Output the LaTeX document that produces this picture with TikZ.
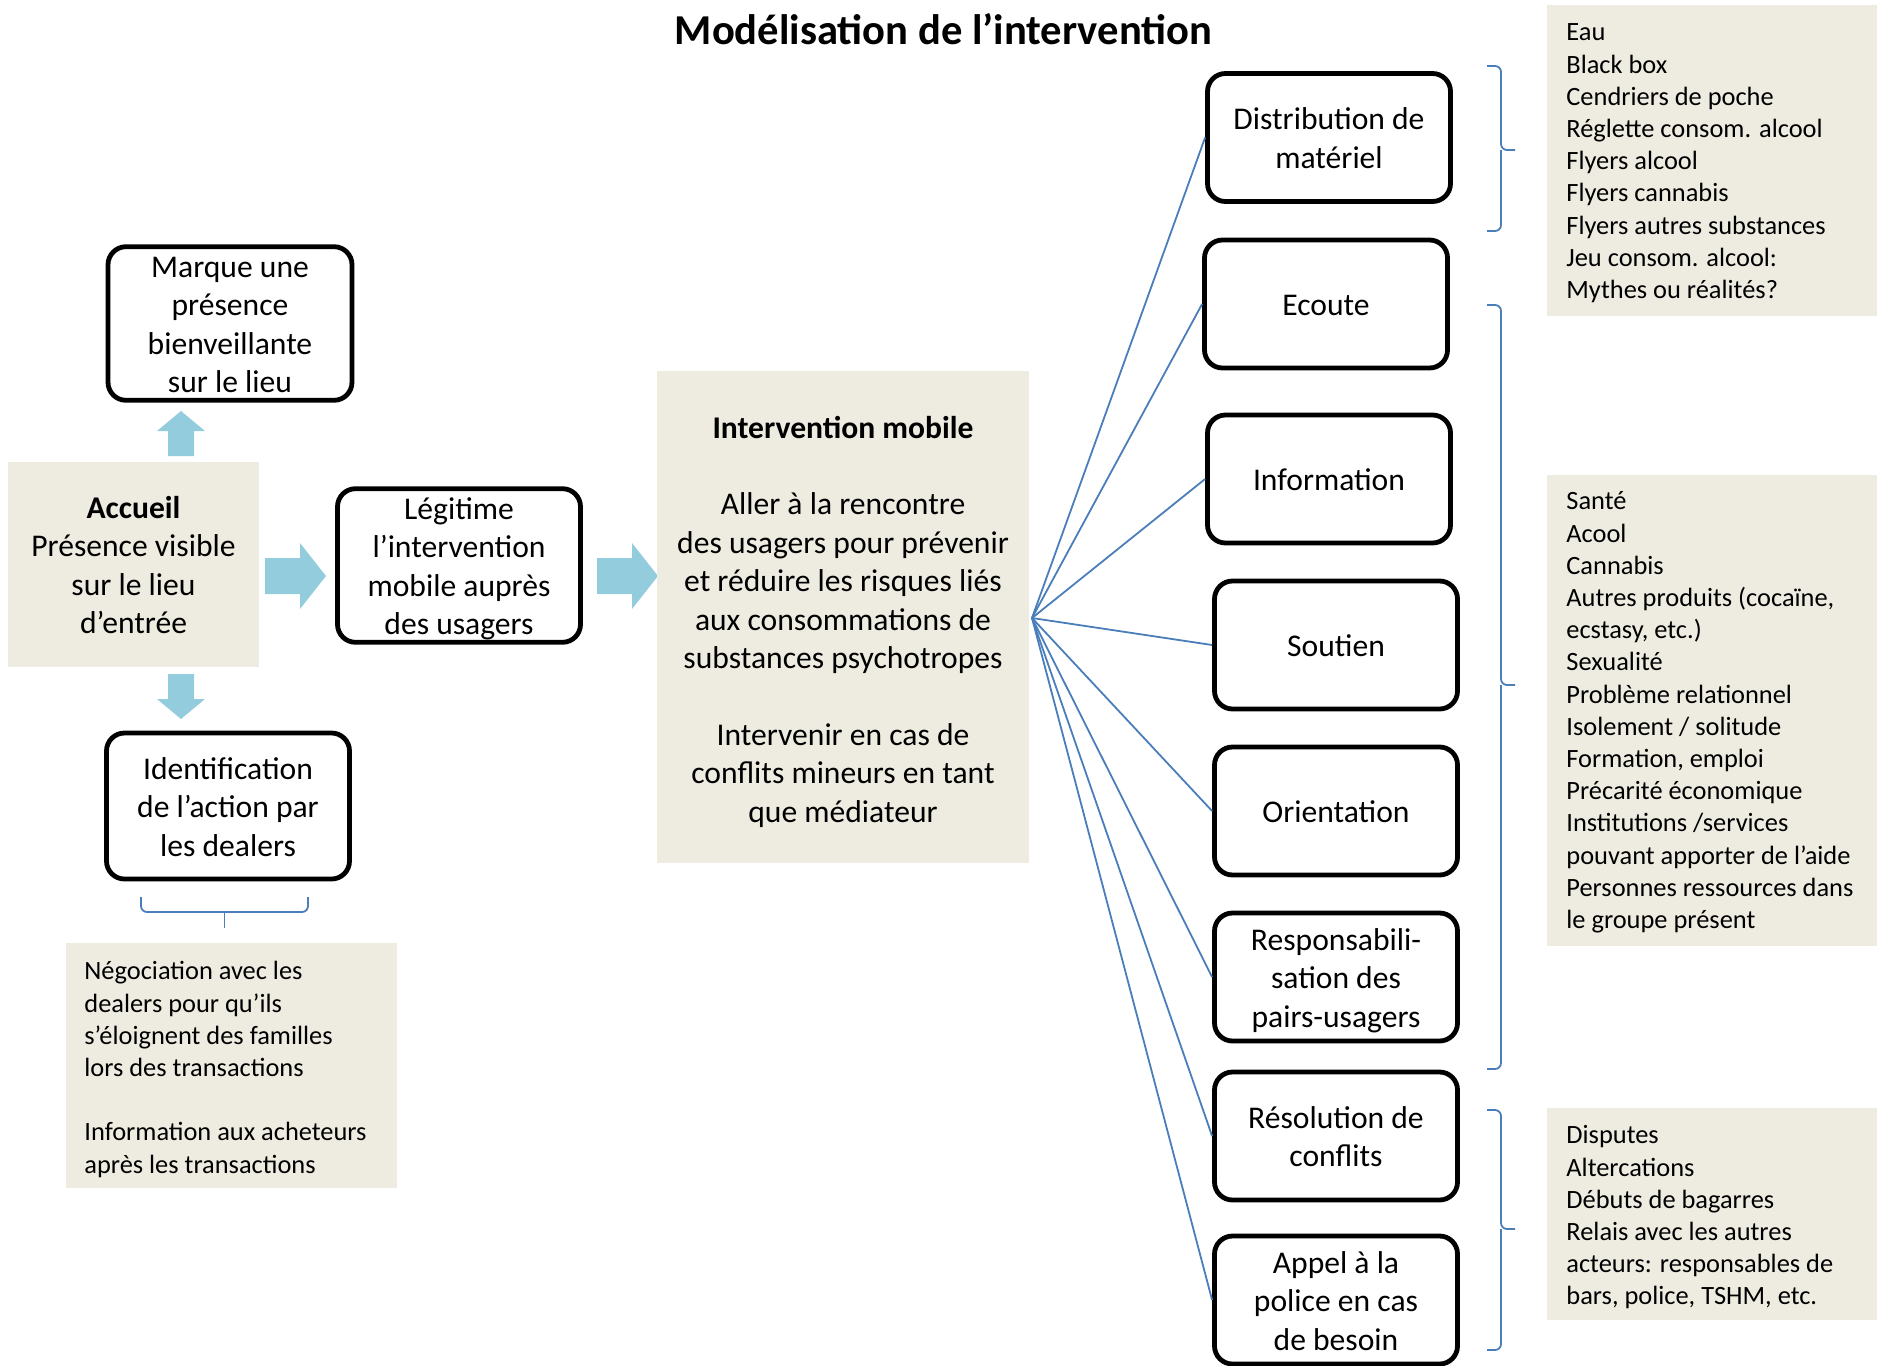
\documentclass[tikz,border=0pt]{standalone}
\usepackage{fontspec}
\setmainfont{Carlito}
\definecolor{beige}{HTML}{EEECE1}
\definecolor{arrowblue}{HTML}{93CDDD}
\definecolor{lineblue}{HTML}{4A7EBB}
\newcommand{\boxtxt}[1]{\raisebox{-2pt}[\height][\depth]{\begin{tabular}{@{}c@{}}#1\end{tabular}}}
\begin{document}
\begin{tikzpicture}[x=0.5pt,y=-0.5pt,
  rbox/.style={draw=black, line width=2.4pt, rounded corners=9pt, align=center, inner sep=0pt,
    font=\fontsize{15.8}{19.2}\selectfont, minimum width=121.5pt, minimum height=64pt},
  bigtext/.style={align=center, inner sep=0pt, font=\fontsize{15.8}{19.2}\selectfont},
  smalltext/.style={align=left, inner sep=0pt, anchor=north west, font=\fontsize{13.2}{16.1}\selectfont},
  panel/.style={fill=beige, draw=none, anchor=north west, inner sep=0pt},
  fanline/.style={draw=lineblue, line width=0.9pt},
  bracket/.style={draw=lineblue, line width=0.9pt, rounded corners=3pt},
  harrow/.pic={\fill[arrowblue] (0,-18)--(35,-18)--(35,-33)--(61,0)--(35,33)--(35,18)--(0,18)--cycle;},
  varrow/.pic={\fill[arrowblue] (0,-13)--(25,-13)--(25,-24)--(45,0)--(25,24)--(25,13)--(0,13)--cycle;}
]
\useasboundingbox (0,0) rectangle (1877,1365);
\clip (0,0) rectangle (1877,1365);

% title
\node[font=\bfseries\fontsize{21.3}{26}\selectfont, anchor=base, inner sep=0pt] (title) at (943.5,44) {Modélisation de l’intervention};

% left part
\node[rbox, minimum width=122pt, minimum height=75pt] (marque) at (230,323.5) {\boxtxt{Marque une\\présence\\bienveillante\\sur le lieu}};
\node[panel, bigtext, anchor=center, minimum width=125.5pt, minimum height=102.5pt] (accueil) at (133.5,564.5)
  {\boxtxt{\textbf{Accueil}\\Présence visible\\sur le lieu\\d’entrée}};
\node[rbox, minimum width=121.5pt, minimum height=75pt] (legit) at (459,565.5) {\boxtxt{Légitime\\l’intervention\\mobile auprès\\des usagers}};
\node[rbox, minimum width=121.5pt, minimum height=73pt] (ident) at (228,806) {\boxtxt{Identification\\de l’action par\\les dealers}};

\node[panel, minimum width=165.5pt, minimum height=122.5pt] (negpanel) at (66,943) {};
\node[smalltext] (negtxt) at (84,957) {\strut Négociation avec les\\dealers pour qu’ils\\s’éloignent des familles\\lors des transactions\\[16.1pt]Information aux acheteurs\\après les transactions};

\draw[bracket] (141,897) |- (308,912) -- (308,897);
\draw[bracket] (224.5,912) -- (224.5,928);

% block arrows
\path (181,456) pic[rotate=90] {varrow};
\path (181,674) pic[rotate=-90] {varrow};
\path (265,576) pic {harrow};
\path (597,576) pic {harrow};

% intervention mobile
\node[panel, minimum width=186pt, minimum height=246pt] (intervpanel) at (657,371) {};
\node[bigtext] (interv) at (843,618.5) {\boxtxt{\textbf{Intervention mobile}\\[19.2pt]Aller à la rencontre\\des usagers pour prévenir\\et réduire les risques liés\\aux consommations de\\substances psychotropes\\[19.2pt]Intervenir en cas de\\conflits mineurs en tant\\que médiateur}};

% right boxes
\node[rbox] (dist) at (1329,137.5) {\boxtxt{Distribution de\\matériel}};
\node[rbox] (ecoute) at (1326,304) {\boxtxt{Ecoute}};
\node[rbox] (info) at (1329,479) {\boxtxt{Information}};
\node[rbox] (soutien) at (1336,645) {\boxtxt{Soutien}};
\node[rbox] (orient) at (1336,811) {\boxtxt{Orientation}};
\node[rbox] (resp) at (1336,977) {\boxtxt{Responsabili-\\sation des\\pairs-usagers}};
\node[rbox] (resol) at (1336,1136) {\boxtxt{Résolution de\\conflits}};
\node[rbox] (appel) at (1336,1300) {\boxtxt{Appel à la\\police en cas\\de besoin}};

\coordinate (fan) at (1032,618);
\foreach \n in {dist,ecoute,info,soutien,orient,resp,resol,appel}
  \draw[fanline] (fan) -- (\n.west);

% brackets on the right
\draw[bracket] (1487,66) -| (1501,150) -- (1515,150);
\draw[bracket] (1501,150) |- (1487,231);
\draw[bracket] (1487,305) -| (1501,685) -- (1515,685);
\draw[bracket] (1501,685) |- (1487,1069);
\draw[bracket] (1487,1110) -| (1501,1229) -- (1515,1229);
\draw[bracket] (1501,1229) |- (1487,1350);

% right panels
\node[panel, minimum width=165pt, minimum height=155.5pt] (panelA) at (1547,5) {};
\node[smalltext] (txtA) at (1566,18) {\strut Eau\\Black box\\Cendriers de poche\\Réglette consom. alcool\\Flyers alcool\\Flyers cannabis\\Flyers autres substances\\Jeu consom. alcool:\\Mythes ou réalités?};
\node[panel, minimum width=165pt, minimum height=235.5pt] (panelB) at (1547,475) {};
\node[smalltext] (txtB) at (1566,487) {\strut Santé\\Acool\\Cannabis\\Autres produits (cocaïne,\\ecstasy, etc.)\\Sexualité\\Problème relationnel\\Isolement / solitude\\Formation, emploi\\Précarité économique\\Institutions /services\\pouvant apporter de l’aide\\Personnes ressources dans\\le groupe présent};
\node[panel, minimum width=165pt, minimum height=106pt] (panelC) at (1547,1108) {};
\node[smalltext] (txtC) at (1566,1121) {\strut Disputes\\Altercations\\Débuts de bagarres\\Relais avec les autres\\acteurs: responsables de\\bars, police, TSHM, etc.};
\end{tikzpicture}
\end{document}
